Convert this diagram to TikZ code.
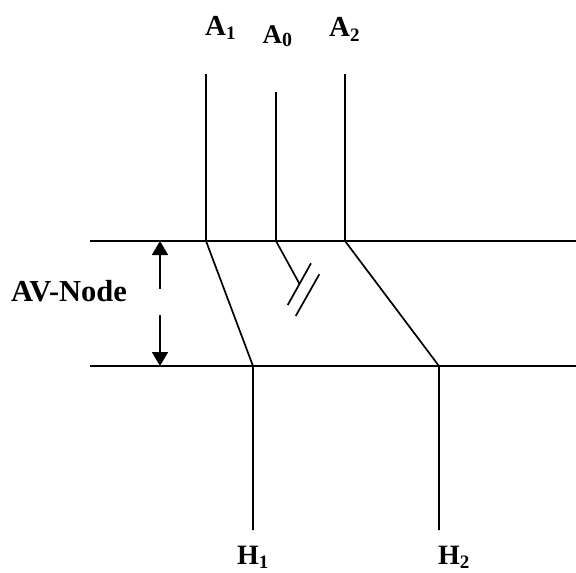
\documentclass[tikz,border=0pt]{standalone}
\usepackage{fontspec}
\setmainfont{Liberation Serif}
\usetikzlibrary{arrows.meta}
\newcommand\sublbl[4]{#1\raisebox{-#4pt}{\fontsize{#3}{#3}\selectfont #2}}
\begin{document}
\begin{tikzpicture}[x=1pt,y=-1pt,
  wire/.style={line width=1.7pt},
  lbl/.style={inner sep=0pt,anchor=base west,font=\fontsize{29}{33}\selectfont\bfseries},
  dimarrow/.style={line width=1.7pt,-{Triangle[length=14pt,width=16pt]}}]
\useasboundingbox (0,0) rectangle (576,573);
% coordinates
\coordinate (T1) at (90,241);  \coordinate (T2) at (576,241);
\coordinate (B1) at (90,366);  \coordinate (B2) at (576,366);
\coordinate (a1t) at (206,74);  \coordinate (a1b) at (206,241);
\coordinate (a0t) at (276,92);  \coordinate (a0b) at (276,241);
\coordinate (a2t) at (345,74);  \coordinate (a2b) at (345,241);
\coordinate (h1t) at (253,366); \coordinate (h1b) at (253,530);
\coordinate (h2t) at (439,366); \coordinate (h2b) at (439,530);
\coordinate (cap) at (299.3,283.5);
\coordinate (p1a) at (311,263.3); \coordinate (p1b) at (287.7,305);
\coordinate (p2a) at (319.3,274.3); \coordinate (p2b) at (295.7,316);
\coordinate (arU) at (160,289); \coordinate (arUt) at (160,241);
\coordinate (arD) at (160,315); \coordinate (arDt) at (160,366);
% labels
\node[lbl] (A1) at (205,35) {\sublbl{A}{1}{19}{4}};
\node[lbl,font=\fontsize{27}{31}\selectfont\bfseries] (A0) at (262.5,43) {\sublbl{A}{0}{20}{3.5}};
\node[lbl] (A2) at (329,36) {\sublbl{A}{2}{19}{5}};
\node[lbl,font=\fontsize{28}{32}\selectfont\bfseries] (H1) at (237,564) {\sublbl{H}{1}{19}{4}};
\node[lbl,font=\fontsize{28}{32}\selectfont\bfseries] (H2) at (438,564) {\sublbl{H}{2}{19}{4}};
\node[lbl,font=\fontsize{30.5}{34}\selectfont\bfseries] (AV) at (11,301) {AV-Node};
% wires
\draw[wire] (T1) -- (T2);
\draw[wire] (B1) -- (B2);
\draw[wire] (a1t) -- (a1b) -- (h1t) -- (h1b);
\draw[wire] (a2t) -- (a2b) -- (h2t) -- (h2b);
\draw[wire] (a0t) -- (a0b) -- (cap);
\draw[wire] (p1a) -- (p1b);
\draw[wire] (p2a) -- (p2b);
% dimension arrow
\draw[dimarrow] (arU) -- (arUt);
\draw[dimarrow] (arD) -- (arDt);
\end{tikzpicture}
\end{document}
